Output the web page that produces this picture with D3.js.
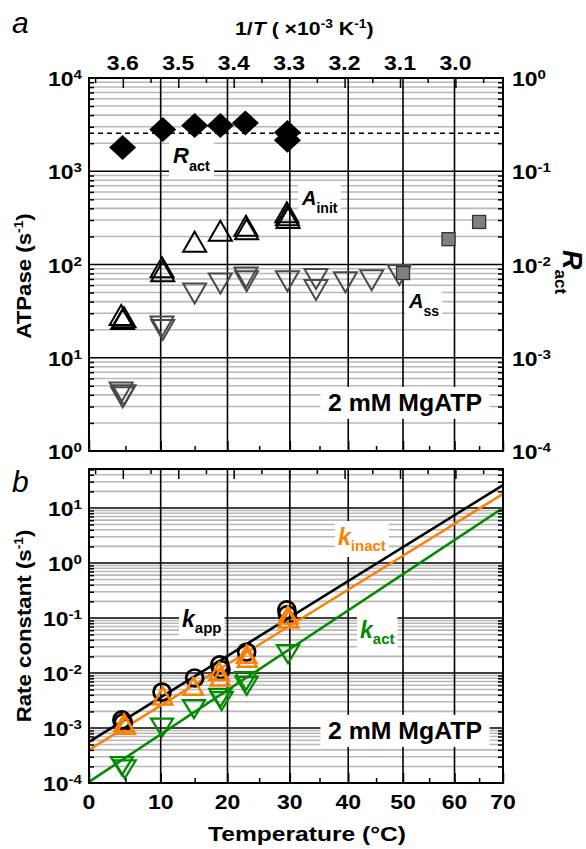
<!DOCTYPE html>
<html>
<head>
<meta charset="utf-8">
<script src="https://cdn.jsdelivr.net/npm/d3@7"></script>
<style>
  body { margin: 0; background: #fff; }
  svg { display: block; font-family: 'Liberation Sans', Arial, Helvetica, sans-serif; }
  text { white-space: pre; }
</style>
</head>
<body>
<svg id="chart" width="586" height="849"></svg>
<script>
// ---- data (temperatures in °C) ----
// panel a
var ractTemp  = [4.6, 10.3, 15, 18.9, 22.8, 29.6, 29.6];
var ractVal   = [0.18, 0.28, 0.31, 0.31, 0.33, 0.26, 0.215];
var ractMean  = 0.255;

var ainitTemp = [4.4, 4.6, 4.8, 10.2, 10.3, 15, 18.9, 22.9, 23.0, 29.5, 29.6, 29.7];
var ainitVal  = [26.5, 24, 25, 86, 78, 162, 212, 240, 220, 335, 310, 290];

var assTemp   = [4.4, 4.6, 4.8, 10.2, 10.3, 15, 18.9, 22.9, 23.0, 29.6, 34.4, 34.4, 39.5, 44.2, 49.3];
var assVal    = [4.6, 4.1, 4.3, 23.5, 21.5, 53, 68, 79, 72, 72, 76, 58, 70, 73.5, 84];

var hotTemp   = [50, 58.8, 65];
var hotVal    = [81, 187, 286];

// panel b
var kappTemp   = [4.5, 4.7, 10.2, 15, 18.8, 19, 23, 29.5, 29.6];
var kappVal    = [1.4e-3, 1.25e-3, 4.5e-3, 8.1e-3, 0.014, 0.0115, 0.024, 0.14, 0.115];
var kinactTemp = [4.8, 5.0, 10.3, 14.8, 18.7, 18.9, 23, 23.1, 29.7, 29.8];
var kinactVal  = [1.1e-3, 1.0e-3, 3.4e-3, 5.1e-3, 9.5e-3, 7.5e-3, 0.0195, 0.0165, 0.1, 0.085];
var kactTemp   = [4.5, 4.9, 10.2, 14.9, 18.9, 19.1, 22.9, 23.0, 29.7];
var kactVal    = [2.3e-4, 2.0e-4, 1.15e-3, 2.5e-3, 4.0e-3, 3.5e-3, 8.1e-3, 6.6e-3, 0.025];

// Arrhenius fits, value at 0 °C and 70 °C
var fitTemp   = [0, 70];
var kappFit   = [5.6e-4, 26];
var kinactFit = [4.0e-4, 18];
var kactFit   = [1.05e-4, 10];

// axis ticks
var invTicks   = [3.6, 3.5, 3.4, 3.3, 3.2, 3.1, 3.0];
var invMinor   = [3.65, 3.55, 3.45, 3.35, 3.25, 3.15, 3.05, 2.95];
var tempTicks  = [0, 10, 20, 30, 40, 50, 60, 70];
var tempMinor  = [5, 15, 25, 35, 45, 55, 65];
var gridTemps  = [10, 20, 30, 40, 50, 60];

// ---- layout ----
var L = 89, R = 503;
var A = { top: 78, bottom: 451 };
var B = { top: 469, bottom: 783 };
var ORANGE = '#ff7f00', GREEN = '#008a00';

var svg = d3.select('#chart');

function invT(t) { return 1000 / (t + 273.15); }
var x = d3.scaleLinear().domain([invT(0), invT(70)]).range([L, R]);
function xT(t) { return x(invT(t)); }

var yA = d3.scaleLog().domain([1, 1e4]).range([A.bottom, A.top]);
var yR = d3.scaleLog().domain([1e-4, 1]).range([A.bottom, A.top]);
var yB = d3.scaleLog().domain([1e-4, 51]).range([B.bottom, B.top]);

function isMajor(v) {
  var l = Math.log10(v);
  return Math.abs(l - Math.round(l)) < 1e-6;
}

// text with sub/superscripts, optional white knockout box
function rich(parent, x0, y0, parts, o) {
  var g = parent.append('g')
    .attr('transform', 'translate(' + x0 + ',' + y0 + ')' +
      (o.rotate ? ' rotate(' + o.rotate + ')' : '') +
      ' scale(' + (o.sx || 1) + ',1)');
  var t = g.append('text')
    .attr('text-anchor', o.anchor || 'start')
    .attr('font-size', o.size)
    .attr('font-weight', o.weight || 'bold')
    .attr('font-style', o.style || 'normal')
    .attr('fill', o.color || '#000');
  var shift = 0;
  parts.forEach(function(p) {
    var off = p.dy || 0;
    var ts = t.append('tspan').attr('dy', off - shift).text(p.t);
    shift = off;
    if (p.size) ts.attr('font-size', p.size);
    if (p.it) ts.attr('font-style', 'italic');
  });
  if (o.knock) {
    var b = t.node().getBBox();
    g.insert('rect', 'text')
      .attr('x', b.x - o.knock[0]).attr('y', b.y - o.knock[1])
      .attr('width', b.width + 2 * o.knock[0])
      .attr('height', b.height + 2 * o.knock[1])
      .attr('fill', '#fff');
  }
  return g;
}

function pow10(e) {
  return [{ t: '10' }, { t: String(e), dy: -7, size: 13.5 }];
}

function grid(y, P) {
  var g = svg.append('g');
  var lo = y.domain()[0], hi = y.domain()[1];
  var ticks = y.ticks().filter(function(v) { return v > lo * 1.0001 && v < hi * 0.9999; });
  g.selectAll('line.minor').data(ticks.filter(function(v) { return !isMajor(v); }))
    .join('line')
    .attr('x1', L).attr('x2', R)
    .attr('y1', function(d) { return y(d); }).attr('y2', function(d) { return y(d); })
    .attr('stroke', '#b8b8b8').attr('stroke-width', 1.6);
  g.selectAll('line.major').data(ticks.filter(isMajor))
    .join('line')
    .attr('x1', L).attr('x2', R)
    .attr('y1', function(d) { return y(d); }).attr('y2', function(d) { return y(d); })
    .attr('stroke', '#000').attr('stroke-width', 1.6);
  g.selectAll('line.vert').data(gridTemps)
    .join('line')
    .attr('x1', function(d) { return xT(d); }).attr('x2', function(d) { return xT(d); })
    .attr('y1', P.top).attr('y2', P.bottom)
    .attr('stroke', '#000').attr('stroke-width', 1.6);
}

function minorTicks(y) {
  var lo = y.domain()[0], hi = y.domain()[1];
  return y.ticks().filter(function(v) { return !isMajor(v) && v > lo && v < hi; });
}

function styleAxis(g) {
  g.select('.domain').remove();
  g.selectAll('.tick line').attr('stroke', '#000').attr('stroke-width', 1.5);
  g.selectAll('.tick text').remove();
}

function frame(P, yLeft, yRight) {
  // top: 1/T ticks
  svg.append('g').attr('transform', 'translate(0,' + P.top + ')')
    .call(d3.axisTop(x).tickValues(invTicks).tickSize(-10)).call(styleAxis);
  svg.append('g').attr('transform', 'translate(0,' + P.top + ')')
    .call(d3.axisTop(x).tickValues(invMinor).tickSize(-5)).call(styleAxis);
  // bottom: temperature ticks
  svg.append('g').attr('transform', 'translate(0,' + P.bottom + ')')
    .call(d3.axisBottom(x).tickValues(tempTicks.map(invT)).tickSize(-10)).call(styleAxis);
  svg.append('g').attr('transform', 'translate(0,' + P.bottom + ')')
    .call(d3.axisBottom(x).tickValues(tempMinor.map(invT)).tickSize(-5)).call(styleAxis);
  // left/right minor ticks
  svg.append('g').attr('transform', 'translate(' + L + ',0)')
    .call(d3.axisLeft(yLeft).tickValues(minorTicks(yLeft)).tickSize(-5)).call(styleAxis);
  svg.append('g').attr('transform', 'translate(' + R + ',0)')
    .call(d3.axisRight(yRight).tickValues(minorTicks(yRight)).tickSize(-5)).call(styleAxis);
  svg.append('rect')
    .attr('x', L).attr('y', P.top).attr('width', R - L).attr('height', P.bottom - P.top)
    .attr('fill', 'none').attr('stroke', '#000').attr('stroke-width', 2);
}

function triPath(w, h, dir) {
  var a = -dir * 2 * h / 3, b = dir * h / 3;
  return 'M0,' + a + 'L' + (w / 2) + ',' + b + 'L' + (-w / 2) + ',' + b + 'Z';
}
function diamondPath(w, h) {
  return 'M0,' + (-h / 2) + 'L' + (w / 2) + ',0L0,' + (h / 2) + 'L' + (-w / 2) + ',0Z';
}
function zip(ts, vs) { return ts.map(function(t, i) { return [t, vs[i]]; }); }

function markers(data, y, path, style) {
  svg.append('g').selectAll('path').data(data).join('path')
    .attr('transform', function(d) { return 'translate(' + xT(d[0]) + ',' + y(d[1]) + ')'; })
    .attr('d', path)
    .attr('fill', style.fill || 'none')
    .attr('stroke', style.stroke || 'none')
    .attr('stroke-width', style.width || 0)
    .attr('stroke-linejoin', 'miter');
}

// ================= panel a =================
grid(yA, A);

var lab = svg.append('g');
rich(lab, 173, 163, [{ t: 'R', it: true }, { t: 'act', dy: 8, size: 14.5 }], { size: 22, knock: [4, 3] });
rich(lab, 302, 205, [{ t: 'A', it: true }, { t: 'init', dy: 8, size: 14 }], { size: 20, knock: [3, 3] });
rich(lab, 409, 308, [{ t: 'A', it: true }, { t: 'ss', dy: 8, size: 14 }], { size: 20, knock: [3, 3] });
rich(lab, 405, 411, [{ t: '2 mM MgATP' }], { size: 23, sx: 1.08, anchor: 'middle', knock: [7, 3] });

svg.append('line')
  .attr('x1', L).attr('x2', R)
  .attr('y1', yR(ractMean)).attr('y2', yR(ractMean))
  .attr('stroke', '#000').attr('stroke-width', 1.5).attr('stroke-dasharray', '5,4');

markers(zip(assTemp, assVal), yA, triPath(23, 20, -1), { stroke: '#4a4a4a', width: 2 });
markers(zip(ainitTemp, ainitVal), yA, triPath(23, 20, 1), { stroke: '#000', width: 2 });
svg.append('g').selectAll('rect').data(zip(hotTemp, hotVal)).join('rect')
  .attr('x', function(d) { return xT(d[0]) - 6.5; })
  .attr('y', function(d) { return yA(d[1]) - 6.5; })
  .attr('width', 13).attr('height', 13)
  .attr('fill', '#808080').attr('stroke', '#333').attr('stroke-width', 1.3);
markers(zip(ractTemp, ractVal), yR, diamondPath(27, 25), { fill: '#000' });

frame(A, yA, yR);

// ================= panel b =================
grid(yB, B);

rich(lab, 182, 627, [{ t: 'k', it: true }, { t: 'app', dy: 6, size: 15 }], { size: 23, knock: [3, 3] });
rich(lab, 338, 545, [{ t: 'k', it: true }, { t: 'inact', dy: 6, size: 15 }], { size: 23, color: ORANGE, knock: [3, 3] });
rich(lab, 360, 638, [{ t: 'k', it: true }, { t: 'act', dy: 6, size: 15 }], { size: 23, color: GREEN, knock: [3, 3] });
rich(svg, 405, 739, [{ t: '2 mM MgATP' }], { size: 23, sx: 1.08, anchor: 'middle', knock: [7, 3] });
lab.raise();

var line = d3.line().x(function(d) { return xT(d[0]); }).y(function(d) { return yB(d[1]); });
[[kactFit, GREEN], [kinactFit, ORANGE], [kappFit, '#000']].forEach(function(f) {
  svg.append('path').attr('d', line(zip(fitTemp, f[0])))
    .attr('fill', 'none').attr('stroke', f[1]).attr('stroke-width', 2.5);
});

svg.append('g').selectAll('circle').data(zip(kappTemp, kappVal)).join('circle')
  .attr('cx', function(d) { return xT(d[0]); })
  .attr('cy', function(d) { return yB(d[1]); })
  .attr('r', 8.5).attr('fill', 'none').attr('stroke', '#000').attr('stroke-width', 2.7);
markers(zip(kinactTemp, kinactVal), yB, triPath(19, 17, 1), { stroke: ORANGE, width: 2.5 });
markers(zip(kactTemp, kactVal), yB, triPath(22, 18, -1), { stroke: GREEN, width: 2.2 });

frame(B, yB, yB);

// ================= axis labels =================
invTicks.forEach(function(v) {
  rich(svg, x(v), 70, [{ t: v.toFixed(1) }], { size: 20, sx: 1.15, anchor: 'middle' });
});
tempTicks.forEach(function(t) {
  rich(svg, xT(t), 809, [{ t: String(t) }], { size: 20, sx: 1.15, anchor: 'middle' });
});
[0, 1, 2, 3, 4].forEach(function(e) {
  rich(svg, 82, yA(Math.pow(10, e)) + 8, pow10(e), { size: 20.5, sx: 1.12, anchor: 'end' });
});
[0, -1, -2, -3, -4].forEach(function(e) {
  rich(svg, 512, yR(Math.pow(10, e)) + 8, pow10(e), { size: 20.5, sx: 1.12 });
});
[1, 0, -1, -2, -3, -4].forEach(function(e) {
  rich(svg, 82, yB(Math.pow(10, e)) + 8, pow10(e), { size: 20.5, sx: 1.12, anchor: 'end' });
});

rich(svg, 235, 35, [
  { t: '1/' }, { t: 'T', it: true }, { t: ' ( \u00d710' }, { t: '-3', dy: -7, size: 12 },
  { t: ' K' }, { t: '-1', dy: -7, size: 12 }, { t: ')' }
], { size: 18.5, sx: 1.15 });

rich(svg, 307, 841, [{ t: 'Temperature (\u00b0C)' }], { size: 20.5, sx: 1.2, anchor: 'middle' });

rich(svg, 31, 276, [{ t: 'ATPase (s' }, { t: '-1', dy: -8, size: 13 }, { t: ')' }],
  { size: 21, sx: 1.06, anchor: 'middle', rotate: -90 });
rich(svg, 31, 626, [{ t: 'Rate constant (s' }, { t: '-1', dy: -8, size: 13 }, { t: ')' }],
  { size: 21, sx: 1.06, anchor: 'middle', rotate: -90 });
rich(svg, 563, 250, [{ t: 'R', it: true }, { t: 'act', dy: 8, size: 17 }],
  { size: 27, rotate: 90 });

rich(svg, 12, 33, [{ t: 'a' }], { size: 30, weight: 'normal', style: 'italic' });
rich(svg, 12, 492, [{ t: 'b' }], { size: 30, weight: 'normal', style: 'italic' });
</script>
</body>
</html>
